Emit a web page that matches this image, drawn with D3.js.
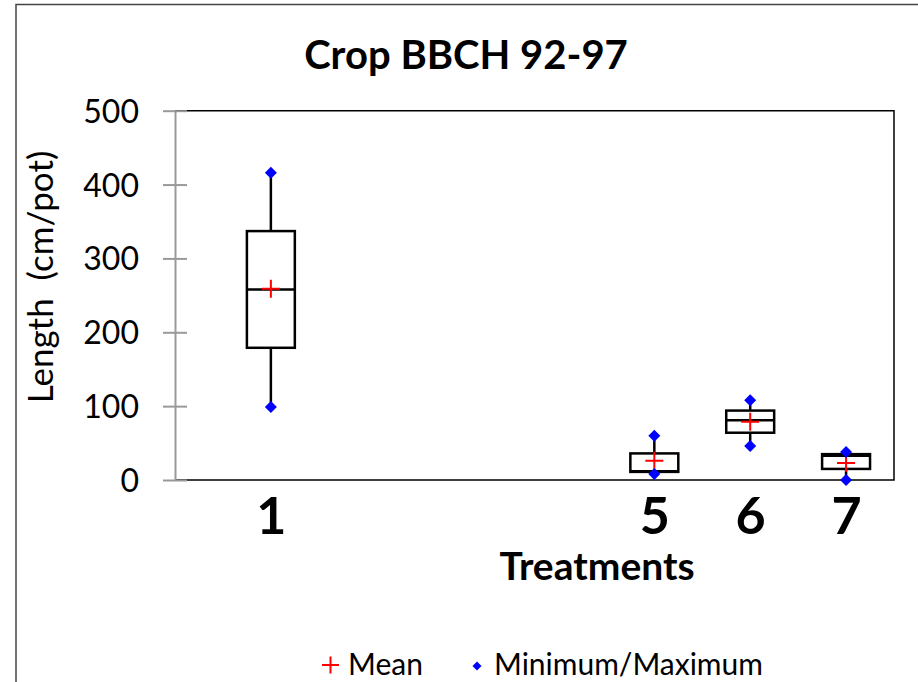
<!DOCTYPE html>
<html><head><meta charset="utf-8">
<script src="https://cdn.jsdelivr.net/npm/d3@7"></script>
<style>body{margin:0;background:#fff}svg{display:block}text{font-family:Lato,"Open Sans",sans-serif}</style>
</head><body>
<script>
const treatments = [1, 5, 6, 7];
const minVals = [99, 8, 46, 0];
const q1Vals = [179, 11, 64, 15];
const medianVals = [258, 12, 81, 33];
const q3Vals = [337, 36, 94, 35];
const maxVals = [416, 60, 108, 38];
const meanVals = [259, 26, 79, 23];
const yTicks = [0, 100, 200, 300, 400, 500];

const W = 918, H = 682;
const svg = d3.select("body").append("svg").attr("width", W).attr("height", H);
svg.append("rect").attr("width", W).attr("height", H).attr("fill", "#fff");
svg.append("rect").attr("x", 16).attr("y", 4.5).attr("width", W + 10).attr("height", H + 10)
  .attr("fill", "none").attr("stroke", "#444").attr("stroke-width", 1.5);

const L = 175, R = 894, T = 110.7, B = 480;
const x = d3.scaleLinear().domain([0, 7.5]).range([L, R]);
const y = d3.scaleLinear().domain([0, 500]).range([B, T]);

svg.append("path").attr("d", `M${L},${T}H${R}V${B}H${L}`).attr("fill", "none").attr("stroke", "#000").attr("stroke-width", 1.5);

const yAxis = d3.axisLeft(y).tickValues(yTicks).tickSizeInner(12).tickSizeOuter(0);
const ga = svg.append("g").attr("transform", `translate(${L},0)`).call(yAxis);
ga.select(".domain").attr("stroke", "#999").attr("stroke-width", 2);
ga.selectAll(".tick line").attr("stroke", "#999").attr("stroke-width", 2).attr("x2", 12).attr("x1", -12);
ga.selectAll(".tick text").attr("font-size", 32).attr("fill", "#000").attr("font-family", "Lato").attr("x", -36).attr("dy", "0.36em");

svg.append("text").attr("transform", `translate(53,${277}) rotate(-90)`).attr("text-anchor", "middle")
  .attr("font-size", 35).attr("fill", "#000").attr("xml:space", "preserve").text("Length  (cm/pot)");

svg.append("text").attr("x", 466).attr("y", 69).attr("text-anchor", "middle").attr("font-size", 40)
  .attr("font-weight", "bold").text("Crop BBCH 92-97");

const xAxis = d3.axisBottom(x).tickValues(treatments).tickSize(0).tickPadding(0).tickFormat(d3.format("d"));
const gx = svg.append("g").attr("transform", `translate(0,${B})`).call(xAxis);
gx.select(".domain").remove();
gx.selectAll(".tick text").attr("font-size", 52).attr("font-weight", "bold").attr("fill", "#000")
  .attr("dy", null).attr("y", 54).attr("font-family", "Lato");

svg.append("text").attr("x", 597).attr("y", 580).attr("text-anchor", "middle").attr("font-size", 39)
  .attr("font-weight", "bold").text("Treatments");

const bw = x(0.5) - x(0);
const data = treatments.map((t, i) => ({t, min: minVals[i], q1: q1Vals[i], med: medianVals[i], q3: q3Vals[i], max: maxVals[i], mean: meanVals[i]}));
const g = svg.append("g").selectAll("g").data(data).join("g");
g.append("line").attr("x1", d => x(d.t)).attr("x2", d => x(d.t)).attr("y1", d => y(d.min)).attr("y2", d => y(d.q1))
  .attr("stroke", "#000").attr("stroke-width", 2.5);
g.append("line").attr("x1", d => x(d.t)).attr("x2", d => x(d.t)).attr("y1", d => y(d.q3)).attr("y2", d => y(d.max))
  .attr("stroke", "#000").attr("stroke-width", 2.5);
g.append("rect").attr("x", d => x(d.t) - bw / 2).attr("width", bw).attr("y", d => y(d.q3)).attr("height", d => y(d.q1) - y(d.q3))
  .attr("fill", "#fff").attr("stroke", "#000").attr("stroke-width", 2.5);
g.append("line").attr("x1", d => x(d.t) - bw / 2).attr("x2", d => x(d.t) + bw / 2).attr("y1", d => y(d.med)).attr("y2", d => y(d.med))
  .attr("stroke", "#000").attr("stroke-width", 2.5);
g.append("path").attr("d", d => `M${x(d.t) - 9},${y(d.mean)}h18M${x(d.t)},${y(d.mean) - 9}v18`)
  .attr("stroke", "#f00").attr("stroke-width", 2);
const dia = r => `M0,${-r}L${r},0L0,${r}L${-r},0Z`;
["min", "max"].forEach(k => {
  g.append("path").attr("d", dia(6)).attr("transform", d => `translate(${x(d.t)},${y(d[k])})`).attr("fill", "#00f");
});

svg.append("path").attr("d", "M322,665h17M330.5,656.5v17").attr("stroke", "#f00").attr("stroke-width", 2);
svg.append("text").attr("x", 348).attr("y", 675).attr("font-size", 30).text("Mean");
svg.append("path").attr("d", dia(4.5)).attr("transform", "translate(477,666)").attr("fill", "#00f");
svg.append("text").attr("x", 494).attr("y", 675).attr("font-size", 30).text("Minimum/Maximum");
</script>
</body></html>
